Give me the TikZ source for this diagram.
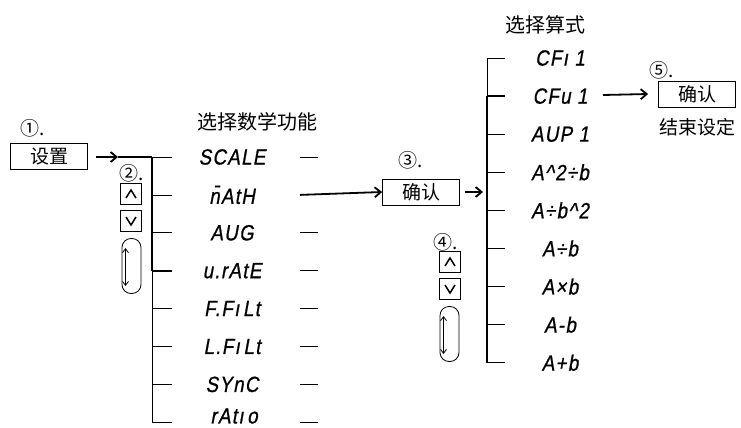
\documentclass[tikz,border=0pt]{standalone}
\usepackage{fontspec}
\newfontfamily\cjk{Noto Sans CJK SC}
\newfontfamily\segfont{Liberation Sans}[FakeSlant=0.18,FakeStretch=0.85,FakeBold=0.8,LetterSpace=6]
\usetikzlibrary{arrows.meta,positioning}

\tikzset{
  thin/.style={line width=0.8pt},
  bold/.style={line width=2pt},
  arr/.style={line width=1.8pt,-{Straight Barb[length=6pt,width=10pt]}},
  keybox/.style={draw,thin,minimum width=77pt,minimum height=26pt,inner sep=0pt,
    font=\cjk\fontsize{19}{19}\selectfont},
  updown/.style={draw,thin,minimum size=21pt,inner sep=0pt},
  pill/.style={draw,thin,rounded corners=9pt,minimum width=19pt,minimum height=55pt,inner sep=0pt},
  seg/.style={font=\segfont\fontsize{22}{22}\selectfont,inner sep=0pt},
  title/.style={font=\cjk\fontsize{20}{20}\selectfont,inner sep=0pt},
  num/.style={font=\cjk\fontsize{19}{19}\selectfont,inner sep=0pt,anchor=west}
}

\begin{document}
\begin{tikzpicture}[x=1pt,y=-1pt]
  \useasboundingbox (0,0) rectangle (741,428);

  % step 1
  \node[num] (n1) at (20,128) {①.};
  \node[keybox] (set) at (49,156) {设置};

  % step 2: function list
  \node[title] (ttl1) at (257,122) {选择数学功能};
  \foreach \lbl [count=\k] in {SCALE,n̄AtH,AUG,u.rAtE,F.F\i\,Lt,L.F\i\,Lt,SYnC}{
    \node[seg] (l\k) at (232,{157+(\k-1)*37.9}) {\lbl};
  }
  \node[seg] (l8) at (234,416) {rAt\i\,o};
  \foreach \k in {1,...,8}{
    \coordinate (lt\k) at (152,{157+(\k-1)*37.9});
    \coordinate (le\k) at (172,{157+(\k-1)*37.9});
    \ifnum\k=2\else
      \draw[thin] (300,{157+(\k-1)*37.9}) -- (318,{157+(\k-1)*37.9});
    \fi
  }
  \foreach \k in {1,2,3,5,6,7,8} \draw[thin] (lt\k) -- (le\k);
  \draw[bold] (lt4) -- (le4);
  \draw[bold] (lt1) -- (lt4);
  \draw[thin] (lt4) -- (lt8);
  \coordinate (a1) at (118,157);
  \draw[arr] ([xshift=8pt]set.east |- a1) -- (a1);
  \draw[bold] (a1) -- (lt1);

  \node[num] (n2) at (119,173) {②.};
  \node[updown] (up1) at (131,194) {};
  \node[updown] (dn1) at (131,221) {};
  \node[pill] (pl1) at (131.5,266) {};
  \draw[line width=1.5pt] ([shift={(-5,4)}]up1.center) -- ([shift={(0,-4)}]up1.center) -- ([shift={(5,4)}]up1.center);
  \draw[line width=1.5pt] ([shift={(-5,-4)}]dn1.center) -- ([shift={(0,4)}]dn1.center) -- ([shift={(5,-4)}]dn1.center);
  \draw[thin,{Straight Barb[length=4pt,width=6pt]}-{Straight Barb[length=4pt,width=6pt]}]
    ([shift={(-6,-18)}]pl1.center) -- ([shift={(-6,20)}]pl1.center);

  % step 3
  \node[num] (n3) at (398,160) {③.};
  \node[keybox] (ok1) at (421,192) {确认};
  \draw[arr] (300,194.9) -- (ok1.west);

  % step 4: formula list
  \node[title] (ttl2) at (545,25) {选择算式};
  \foreach \lbl [count=\k] in {CF\i~1,CFu~1,AUP~1,A\^{}2÷b,A÷b\^{}2,A÷b,A×b,A-b,A+b}{
    \node[seg] (r\k) at (560,{58+(\k-1)*38.1}) {\lbl};
    \coordinate (rt\k) at (487,{58+(\k-1)*38.1});
    \coordinate (re\k) at (505,{58+(\k-1)*38.1});
  }
  \foreach \k in {1,3,4,5,6,7,8,9} \draw[thin] (rt\k) -- (re\k);
  \draw[bold] (rt2) -- (re2);
  \draw[thin] (rt1) -- (rt2);
  \draw[bold] (rt2) -- (rt9);
  \draw[arr] ([xshift=5pt]ok1.east) -- ([xshift=-4pt]ok1.east -| rt1);

  \node[num] (n4) at (433,242) {④.};
  \node[updown] (up2) at (450,262) {};
  \node[updown] (dn2) at (450,289) {};
  \node[pill] (pl2) at (449.5,334) {};
  \draw[line width=1.5pt] ([shift={(-5,4)}]up2.center) -- ([shift={(0,-4)}]up2.center) -- ([shift={(5,4)}]up2.center);
  \draw[line width=1.5pt] ([shift={(-5,-4)}]dn2.center) -- ([shift={(0,4)}]dn2.center) -- ([shift={(5,-4)}]dn2.center);
  \draw[thin,{Straight Barb[length=4pt,width=6pt]}-{Straight Barb[length=4pt,width=6pt]}]
    ([shift={(-6,-18)}]pl2.center) -- ([shift={(-6,20)}]pl2.center);

  % step 5
  \node[num] (n5) at (649,70) {⑤.};
  \node[keybox] (ok2) at (697,94) {确认};
  \node[title,font=\cjk\fontsize{19}{19}\selectfont] (end) at (697,127) {结束设定};
  \draw[arr] (603,95) -- ([xshift=-10pt]ok2.west);
\end{tikzpicture}
\end{document}
